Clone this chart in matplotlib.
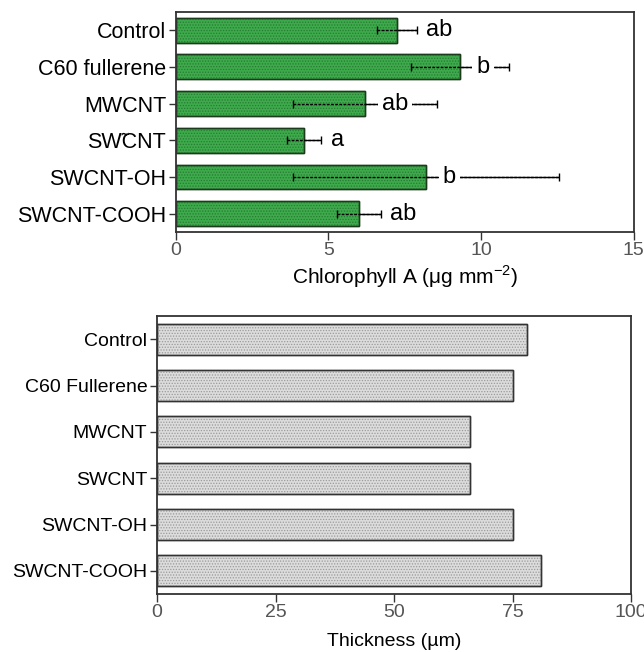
import matplotlib.pyplot as plt
import numpy as np

plt.rcParams["font.family"] = ["Liberation Sans", "DejaVu Sans"]
plt.rcParams["hatch.linewidth"] = 0.6
plt.rcParams["axes.unicode_minus"] = False

# chlorophyll data (top panel)
chl_labels = ["Control", "C60 fullerene", "MWCNT", "SW\u0303CNT", "SWCNT-OH", "SWCNT-COOH"]
chl_mean = [7.25, 9.3, 6.2, 4.2, 8.2, 6.0]
chl_err = [0.65, 1.6, 2.35, 0.57, 4.35, 0.72]
chl_group = ["ab", "b", "ab", "a", "b", "ab"]

# thickness data (bottom panel)
thk_labels = ["Control", "C60 Fullerene", "MWCNT", "SWCNT", "SWCNT-OH", "SWCNT-COOH"]
thk_vals = [78, 75, 66, 66, 75, 81]

fig = plt.figure(figsize=(6.44, 6.52), dpi=100)
ax1 = fig.add_axes([0.273, 0.644, 0.711, 0.337])
ax2 = fig.add_axes([0.244, 0.089, 0.736, 0.426])

spine_col = "#333333"


def style_axes(ax, labelsize):
    for s in ax.spines.values():
        s.set_color(spine_col)
        s.set_linewidth(1.3)
    ax.tick_params(axis="y", length=5, width=1, color=spine_col, labelsize=labelsize, pad=2)
    ax.tick_params(axis="x", length=6, width=1, color=spine_col, labelsize=14,
                   labelcolor="#555555", pad=1)


# ---- top panel ----
y = np.arange(len(chl_labels))
ax1.barh(y, chl_mean, height=0.68, color="#3daa4b", edgecolor="#1c3a1c", linewidth=1.0)
ax1.barh(y, chl_mean, height=0.68, color="none", edgecolor="#2a7a35", hatch="......", linewidth=0)
ax1.barh(y, chl_mean, height=0.68, color="none", edgecolor="#1c3a1c", linewidth=1.0)

eb = ax1.errorbar(chl_mean, y, xerr=chl_err, fmt="none", ecolor="black",
                  elinewidth=1, capsize=3, capthick=1)
eb[2][0].set_linestyle((0, (2, 1)))
ax1.hlines(y, chl_mean, np.array(chl_mean) + np.array(chl_err), color="black", lw=1)

for yi, m, e, g in zip(y, chl_mean, chl_err, chl_group):
    xt = m + e + 0.3 if e < 1.0 else m + 0.55
    ax1.text(xt, yi, g, va="center", ha="left", fontsize=17,
             bbox=dict(facecolor="white", edgecolor="none", pad=3))

ax1.set_yticks(y)
ax1.set_yticklabels(chl_labels)
ax1.set_ylim(5.5, -0.48)
ax1.set_xlim(0, 15)
ax1.set_xticks([0, 5, 10, 15])
ax1.set_xlabel("Chlorophyll A (\u03bcg mm$^{\\mathregular{-2}}$)", fontsize=15, labelpad=3)
style_axes(ax1, 15.5)

# ---- bottom panel ----
y2 = np.arange(len(thk_labels))
ax2.barh(y2, thk_vals, height=0.67, color="#dcdcdc", edgecolor="#333333", linewidth=1.0)
ax2.barh(y2, thk_vals, height=0.67, color="none", edgecolor="#9a9a9a", hatch="......", linewidth=0)
ax2.barh(y2, thk_vals, height=0.67, color="none", edgecolor="#333333", linewidth=1.0)

ax2.set_yticks(y2)
ax2.set_yticklabels(thk_labels)
ax2.set_ylim(5.5, -0.5)
ax2.set_xlim(0, 100)
ax2.set_xticks([0, 25, 50, 75, 100])
ax2.set_xlabel("Thickness (\u00b5m)", fontsize=14, labelpad=9)
style_axes(ax2, 14)

fig.savefig("out.png", dpi=100)
